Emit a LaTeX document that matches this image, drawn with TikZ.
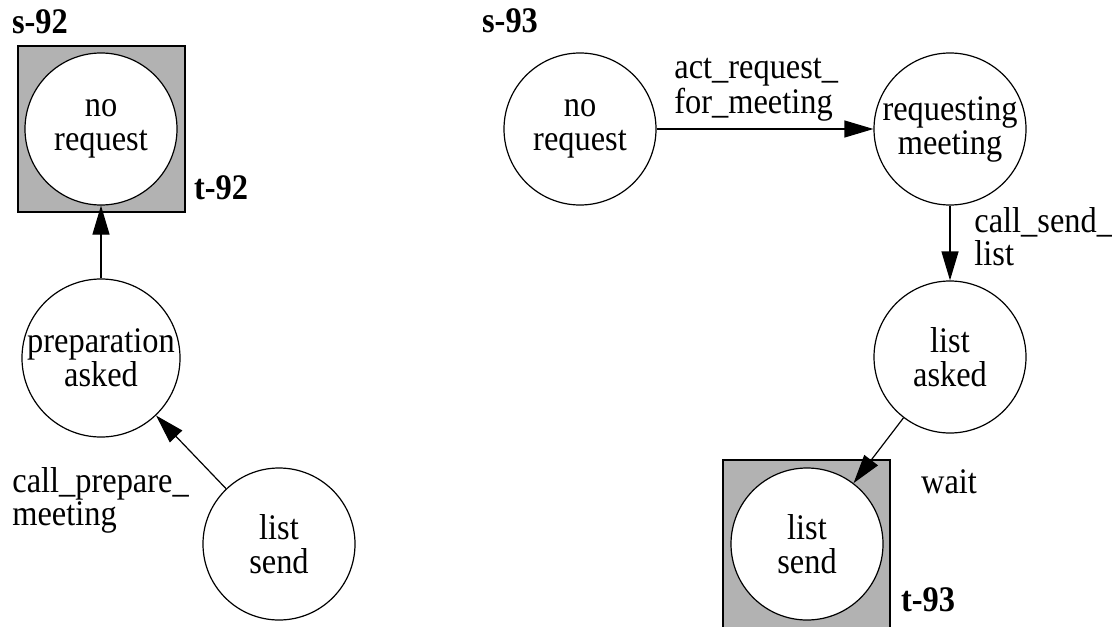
\documentclass[tikz,border=0pt]{standalone}
\usepackage{fontspec}
\setmainfont{Liberation Serif}[FakeStretch=0.9]
\usetikzlibrary{arrows.meta}

\begin{document}
\begin{tikzpicture}[x=0.5pt, y=-0.5pt,
    stnode/.style={circle, draw, fill=white, line width=0.6pt, minimum size=76pt,
        inner sep=0pt, align=center, font=\fontsize{18}{17}\selectfont},
    elabel/.style={align=left, inner sep=0pt, font=\fontsize{18}{16.5}\selectfont},
    tag/.style={inner sep=0pt, font=\fontsize{18}{18}\selectfont\bfseries},
    trans/.style={line width=0.6pt, -{Triangle[length=14.5pt, width=8.5pt]}},
    endbox/.style={draw, fill=black!30, line width=0.6pt}]

    \useasboundingbox (0,0) rectangle (1112,626);

    % Left graph s-92
    \node[tag] (s92) at (40,22) {s-92};
    \draw[endbox] (18,46) rectangle (185,212);
    \node[stnode] (noreqA) at (101,129) {no\\request};
    \node[tag] (t92) at (221,188) {t-92};

    \node[stnode] (prep) at (101,358) {preparation\\asked};
    \node[stnode] (sendA) at (279,544) {list\\send};

    % Transitions s-92
    \draw[trans] (prep) -- (noreqA);
    \draw[trans] (sendA) -- (prep);
    \node[elabel, anchor=west] (lblprep) at (12,500) {call\_prepare\_\\meeting};

    % Right graph s-93
    \node[tag] (s93) at (510,21) {s-93};
    \node[stnode] (noreqB) at (580,129) {no\\request};
    \node[stnode] (reqmeet) at (950,129) {requesting\\meeting};
    \node[stnode] (asked) at (950,357) {list\\asked};

    \draw[endbox] (723,460) rectangle (890,628);
    \node[stnode] (sendB) at (807,544) {list\\send};
    \node[tag] (t93) at (928,600) {t-93};

    % Transitions s-93
    \draw[trans] (noreqB) -- (reqmeet);
    \node[elabel, anchor=west] (lblact) at (674,90) {act\_request\_\\for\_meeting};

    \draw[trans] (reqmeet) -- (asked);
    \node[elabel, anchor=west] (lblcall) at (974,237) {call\_send\_\\list};

    \draw[trans] (asked) -- (sendB);
    \node[elabel] (lblwait) at (949,482) {wait};

\end{tikzpicture}
\end{document}
